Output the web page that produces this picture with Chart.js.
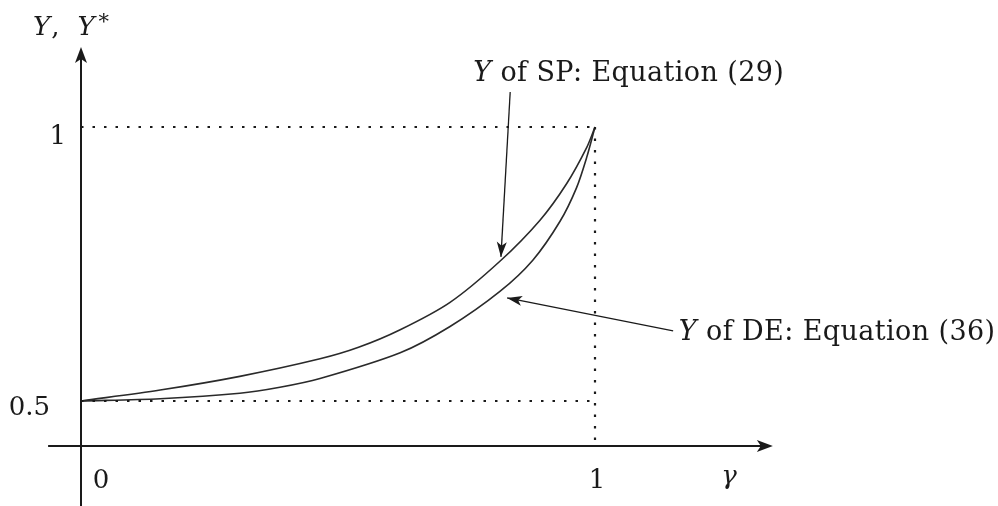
<!DOCTYPE html>
<html>
<head>
<meta charset="utf-8">
<script src="https://cdn.jsdelivr.net/npm/chart.js@4/dist/chart.umd.min.js"></script>
<style>
  html, body { margin: 0; padding: 0; background: #fff; }
  #wrap { width: 998px; height: 506px; }
</style>
</head>
<body>
<div id="wrap"><canvas id="c" width="998" height="506"></canvas></div>
<script>
// gamma values and the two curves Y(gamma)
const gammaSP = [0, 0.154, 0.309, 0.465, 0.540, 0.621, 0.718, 0.815, 0.893, 0.945, 0.984, 1];
const ySP     = [0.5, 0.520, 0.545, 0.577, 0.598, 0.630, 0.680, 0.755, 0.830, 0.897, 0.963, 1];

const gammaDE = [0, 0.154, 0.309, 0.387, 0.465, 0.621, 0.718, 0.815, 0.879, 0.932, 0.964, 0.984, 1];
const yDE     = [0.5, 0.504, 0.514, 0.525, 0.541, 0.588, 0.636, 0.700, 0.757, 0.828, 0.889, 0.945, 1];

// tick labels
const xTickValues = [0, 1];
const xTickLabels = ['0', '1'];
const yTickValues = [0.5, 1];
const yTickLabels = ['0.5', '1'];

// where the horizontal axis crosses the vertical one
const axisCrossY = 0.418;

const toPts = (xs, ys) => xs.map((x, i) => ({ x, y: ys[i] }));

const SERIF = '"DejaVu Serif", "Liberation Serif", serif';
const INK = '#1a1a1a';

function drawRich(ctx, parts, x, y) {
  let cx = x;
  for (const p of parts) {
    ctx.font = (p.italic ? 'italic ' : '') + p.size + 'px ' + SERIF;
    ctx.fillText(p.t, cx, y + (p.dy || 0));
    cx += ctx.measureText(p.t).width + (p.gap || 0);
  }
}

function arrowHead(ctx, x1, y1, x2, y2, len, half) {
  const a = Math.atan2(y2 - y1, x2 - x1);
  const c = Math.cos(a), s = Math.sin(a);
  ctx.beginPath();
  ctx.moveTo(x2, y2);
  ctx.lineTo(x2 - len * c + half * s, y2 - len * s - half * c);
  ctx.lineTo(x2 - len * c * 0.75, y2 - len * s * 0.75);
  ctx.lineTo(x2 - len * c - half * s, y2 - len * s + half * c);
  ctx.closePath();
  ctx.fill();
}

const decorations = {
  id: 'decorations',
  afterDatasetsDraw(chart) {
    const ctx = chart.ctx;
    const xs = chart.scales.x, ys = chart.scales.y;
    const px = v => xs.getPixelForValue(v);
    const py = v => ys.getPixelForValue(v);
    ctx.save();
    ctx.strokeStyle = INK;
    ctx.fillStyle = INK;

    // axes with arrow tips
    const x0 = px(0), yc = py(axisCrossY);
    const yTop = py(1.146), yBot = py(0.30);
    const xL = px(-0.064), xR = px(1.346);
    ctx.lineWidth = 2;
    ctx.beginPath();
    ctx.moveTo(x0, yBot); ctx.lineTo(x0, yTop + 10);
    ctx.moveTo(xL, yc); ctx.lineTo(xR - 10, yc);
    ctx.stroke();
    arrowHead(ctx, x0, yBot, x0, yTop, 16, 6);
    arrowHead(ctx, xL, yc, xR, yc, 16, 6);

    // leader arrows for the curve labels
    ctx.lineWidth = 1.3;
    const leaders = [
      [0.835, 1.064, 0.817, 0.763],
      [1.152, 0.628, 0.829, 0.688]
    ];
    for (const [a, b, c, d] of leaders) {
      ctx.beginPath();
      ctx.moveTo(px(a), py(b));
      ctx.lineTo(px(c), py(d));
      ctx.stroke();
      arrowHead(ctx, px(a), py(b), px(c), py(d), 15, 5);
    }

    ctx.textBaseline = 'middle';
    // tick labels
    ctx.textAlign = 'center';
    ctx.font = '26px ' + SERIF;
    xTickValues.forEach((v, i) => ctx.fillText(xTickLabels[i], px(v) + (v === 0 ? 20 : 2), yc + 35));
    ctx.textAlign = 'right';
    yTickValues.forEach((v, i) => {
      const right = v === 1 ? x0 - 15 : x0 - 31;
      ctx.fillText(yTickLabels[i], right, py(v) + (v === 0.5 ? 7 : 10));
    });

    // axis titles
    ctx.textAlign = 'left';
    ctx.font = 'italic 26px ' + SERIF;
    ctx.fillText('\u03b3', px(1.24) + 3, yc + 31);
    drawRich(ctx, [
      { t: 'Y', italic: true, size: 26, gap: 1 },
      { t: ',', size: 26, gap: 18 },
      { t: 'Y', italic: true, size: 26, gap: 4 },
      { t: '*', size: 21, dy: -5 }
    ], x0 - 48, yTop - 19);

    // curve labels
    ctx.letterSpacing = '0.4px';
    drawRich(ctx, [
      { t: 'Y', italic: true, size: 27, gap: 9 },
      { t: 'of SP: Equation (29)', size: 27 }
    ], px(0.763), py(1.099) + 1);
    drawRich(ctx, [
      { t: 'Y', italic: true, size: 27, gap: 9 },
      { t: 'of DE: Equation (36)', size: 27 }
    ], px(1.163), py(0.626) + 1);
    ctx.letterSpacing = '0px';

    ctx.restore();
  }
};

const dotted = { borderColor: INK, borderWidth: 2.2, borderDash: [2.5, 9], tension: 0, pointRadius: 0 };

new Chart(document.getElementById('c'), {
  type: 'line',
  data: {
    datasets: [
      Object.assign({ data: [{ x: 0, y: 1 }, { x: 1, y: 1 }] }, dotted),
      Object.assign({ data: [{ x: 0, y: 0.5 }, { x: 1, y: 0.5 }] }, dotted),
      Object.assign({ data: [{ x: 1, y: 1 }, { x: 1, y: axisCrossY }] }, dotted),
      {
        label: 'Y of SP',
        data: toPts(gammaSP, ySP),
        borderColor: '#2a2a2a', borderWidth: 1.6, pointRadius: 0,
        tension: 0.3
      },
      {
        label: 'Y of DE',
        data: toPts(gammaDE, yDE),
        borderColor: '#2a2a2a', borderWidth: 1.6, pointRadius: 0,
        tension: 0.3
      }
    ]
  },
  options: {
    responsive: false,
    animation: false,
    devicePixelRatio: 1,
    layout: { padding: 0 },
    plugins: { legend: { display: false }, tooltip: { enabled: false } },
    scales: {
      x: { type: 'linear', display: false, min: -81 / 514, max: 917 / 514 },
      y: { type: 'linear', display: false, min: 0.5 - 105 / 548, max: 0.5 + 401 / 548 }
    }
  },
  plugins: [decorations]
});
</script>
</body>
</html>
